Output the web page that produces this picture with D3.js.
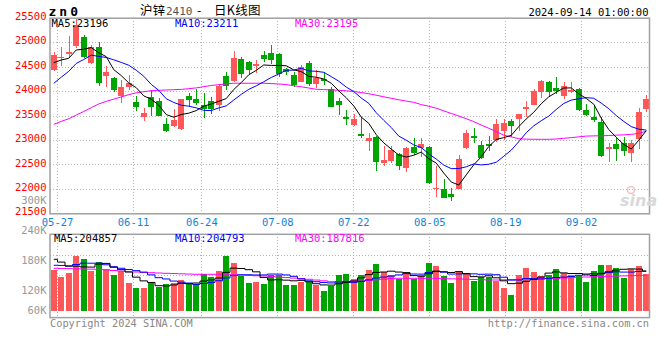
<!DOCTYPE html>
<html><head><meta charset="utf-8">
<script src="https://cdn.jsdelivr.net/npm/d3@7"></script>
<style>body{margin:0;background:#fff}svg{display:block}</style>
</head><body>
<svg id="c" width="660" height="360"></svg>
<script>
// ---------- DATA ----------
const dates = ["05-24","05-27","05-28","05-29","05-30","05-31","06-03","06-04","06-05","06-06","06-07",
"06-11","06-12","06-13","06-14","06-17","06-18","06-19","06-20","06-21","06-24","06-25","06-26","06-27","06-28",
"07-01","07-02","07-03","07-04","07-05","07-08","07-09","07-10","07-11","07-12","07-15","07-16","07-17","07-18","07-19",
"07-22","07-23","07-24","07-25","07-26","07-29","07-30","07-31","08-01","08-02","08-05","08-06","08-07","08-08","08-09",
"08-12","08-13","08-14","08-15","08-16","08-19","08-20","08-21","08-22","08-23","08-26","08-27","08-28","08-29","08-30",
"09-02","09-03","09-04","09-05","09-06","09-09","09-10","09-11","09-12","09-13"];
const tickDates = ["05-27","06-11","06-24","07-08","07-22","08-05","08-19","09-02"];
const open  = [24440,24690,24765,24930,25120,24575,24915,24325,24270,23910,24100,23790,23485,23880,23800,23335,23300,23230,23900,23840,
23720,23810,23720,24318,24222,24665,24598,24530,24747,24781,24767,24455,24338,24201,24590,24154,24250,24045,23805,23486,
23316,23126,22995,23077,22545,22586,22723,22443,22872,22840,22872,22013,22006,21904,22006,22840,23091,22907,22921,23009,
23200,23404,23439,23663,23725,23997,24201,24065,23915,23997,24052,23623,23486,23384,22819,22927,22954,22750,23030,23643];
const high  = [24815,24905,25130,25480,25150,24960,25020,24520,24290,24235,24340,23910,23660,24030,23870,23450,23650,23850,23965,24045,
23965,23895,24160,24394,24827,24712,24624,24645,24829,24950,24780,24476,24394,24543,24631,24431,24406,24099,23875,23623,
23541,23486,23146,23091,22887,22887,22750,22872,23044,23057,22887,22478,22205,22021,22702,23214,23248,22995,23091,23439,
23432,23439,23545,23805,24045,24236,24210,24291,24189,24189,24066,23745,23725,23486,22941,23044,23077,23000,23660,23920];
const low   = [24430,24520,24700,24900,24690,24560,24120,24100,23990,23760,24040,23600,23400,23500,23490,23180,23280,23210,23690,23725,
23455,23535,23600,24032,24200,24283,24358,24373,24610,24563,24304,24338,24099,24189,24113,24079,24134,23680,23520,23316,
23296,23044,22790,22381,22478,22532,22395,22361,22702,22655,22110,21850,21817,21768,22000,22819,22941,22614,22790,22975,
23009,23077,23200,23486,23720,23875,23882,23950,23841,23964,23608,23500,23384,22668,22566,22586,22682,22566,22830,23588];
const close = [24747,24710,24800,25360,24710,24915,24180,24405,24030,24100,24170,23690,23565,23690,23500,23200,23420,23840,23830,23765,
23650,23645,24110,24114,24692,24358,24440,24562,24666,24645,24358,24410,24134,24496,24154,24271,24236,23690,23725,23439,
23439,23091,23057,22566,22600,22805,22478,22852,22750,22927,22124,22034,21829,21837,22620,23159,23064,22647,22893,23336,
23350,23295,23541,23678,24017,24222,23997,24011,24113,24032,23623,23520,23418,22682,22872,22825,22790,22954,23588,23847];
const closePrior = [23450,23600,23750,23900,24030,24435,24625,24510,24633];
const ma30Price = [23330,23390,23445,23520,23592,23670,23747,23800,23845,23890,23936,23973,23997,24018,24025,24032,24038,24044,24058,24075,
24100,24125,24140,24155,24170,24170,24170,24170,24170,24163,24155,24142,24118,24097,24072,24047,24040,24034,24025,24015,
24000,23980,23955,23925,23893,23862,23832,23805,23780,23733,23700,23660,23605,23552,23500,23445,23385,23315,23250,23180,
23108,23072,23036,23027,23024,23023,23023,23030,23044,23058,23074,23089,23093,23096,23101,23108,23115,23125,23145,23190];
const volume = [160600,147000,155000,189000,182600,158600,176600,162000,150600,158600,135000,125000,125000,135000,126000,132600,135000,140600,132000,132600,
152000,147000,158600,189000,175000,148600,135000,137000,132600,150600,150600,130600,130600,137000,137000,130600,118600,128600,150600,152600,
142600,150600,160600,172600,156600,150600,142000,155200,142600,150600,175200,168600,148600,135200,158600,155200,139200,146000,146000,138600,
125200,110600,150600,165200,157200,148600,150600,162600,155200,150600,148600,137200,158600,170600,170600,165200,145200,162600,168600,152000];
const volPrior = [150000,165000,160000,155000,160000,175000,195000,190000,189400];
const ma30Vol = [164000,163700,163400,163000,162700,162300,162000,160800,159600,158400,157200,156600,155900,155200,154600,154000,153500,153000,152500,152000,
152000,152000,152000,152000,151200,150500,149800,149100,148600,147700,146600,145500,144400,143500,142000,140500,139000,137200,137500,137800,
138200,138600,139800,141000,142200,143400,144000,144000,144000,144000,144000,143700,143300,143000,142700,142200,141700,141200,140700,140600,
141000,141500,142000,142500,142800,143100,143400,143800,144500,145200,145900,146600,147200,147600,148000,148400,148800,149200,149600,150000];
const priceTicks = [21500,22000,22500,23000,23500,24000,24500,25000,25500];
const volTicks = [300000,240000,180000,120000,60000];
const volTickLabels = ["300K","240K","180K","120K","60K"];
const priceMaLabels = ["MA5:23196","MA10:23211","MA30:23195"];
const volMaLabels = ["MA5:204857","MA10:204793","MA30:187816"];
const titleParts = ["沪锌", "2410", "-", "日K线图"];

// ---------- LAYOUT ----------
const L = 50, R = 650, pTop = 18.2, pBot = 213.8, vTop = 234.3, vBot = 317.6, vBase = 310.7;
const RED = "#ff5757", GREEN = "#00a400", GRID = "#b4b4b4", FRAME = "#a0a0a0";
const MONO = "'DejaVu Sans Mono', monospace";
const svg = d3.select("#c");
const idx = d3.range(dates.length);
const x = d3.scaleBand().domain(idx).range([L, R]).padding(0);
const cx = i => x(i) + x.bandwidth() / 2;
const bw = x.bandwidth() * 0.8;
const xg = d3.scaleLinear().domain([0, dates.length - 1]).range([L, R]);
const y = d3.scaleLinear().domain([21500, 25500]).range([pBot, pTop]);
const yV = d3.scaleLinear().domain([0, 300000]).range([350.3, 200.3]);

function ma(vals, prior, n) {
  const all = prior.concat(vals);
  return vals.map((_, i) => d3.mean(all.slice(i + prior.length - n + 1, i + prior.length + 1)));
}
const ma5 = ma(close, closePrior, 5), ma10 = ma(close, closePrior, 10);
const vma5 = ma(volume, volPrior, 5), vma10 = ma(volume, volPrior, 10);
const up = i => close[i] >= open[i];

// ---------- GRID ----------
const g = svg.append("g").attr("shape-rendering", "crispEdges");
g.selectAll(".hg").data(priceTicks.slice(1, -1)).join("line")
  .attr("x1", L).attr("x2", R).attr("y1", d => y(d)).attr("y2", d => y(d))
  .attr("stroke", GRID).attr("stroke-dasharray", "1,2");
const vgrid = d3.range(1, 4).map(k => vTop + k * (vBot - vTop) / 4);
g.selectAll(".vhg").data(vgrid).join("line")
  .attr("x1", L).attr("x2", R).attr("y1", d => d).attr("y2", d => d)
  .attr("stroke", GRID).attr("stroke-dasharray", "1,2");
const tickIdx = tickDates.map(d => dates.indexOf(d));
[[pTop, pBot], [vTop, vBot]].forEach(([a, b]) => {
  g.append("g").selectAll("line").data(tickIdx).join("line")
    .attr("x1", d => xg(d)).attr("x2", d => xg(d)).attr("y1", a).attr("y2", b)
    .attr("stroke", GRID).attr("stroke-dasharray", "1,2");
});

// ---------- CANDLES ----------
const cg = svg.append("g").attr("shape-rendering", "crispEdges");
cg.selectAll(".wick").data(idx).join("line")
  .attr("x1", i => Math.round(cx(i)) + 0.5).attr("x2", i => Math.round(cx(i)) + 0.5)
  .attr("y1", i => y(high[i])).attr("y2", i => y(low[i]))
  .attr("stroke", i => up(i) ? RED : GREEN);
cg.selectAll(".body").data(idx).join("rect")
  .attr("x", i => cx(i) - bw / 2).attr("width", bw)
  .attr("y", i => y(Math.max(open[i], close[i])))
  .attr("height", i => Math.max(1.5, Math.abs(y(open[i]) - y(close[i]))))
  .attr("fill", i => up(i) ? RED : GREEN);

// ---------- PRICE MAs ----------
const line = d3.line().x((d, i) => cx(i)).y(d => y(d));
[[ma30Price, "#ff00ff"], [ma10, "#0000ff"], [ma5, "#000"]].forEach(([d, c]) =>
  svg.append("path").attr("d", line(d)).attr("fill", "none").attr("stroke", c).attr("stroke-width", 1));

// ---------- VOLUME ----------
cg.selectAll(".vol").data(idx).join("rect")
  .attr("x", i => cx(i) - bw / 2).attr("width", bw)
  .attr("y", i => yV(volume[i])).attr("height", i => vBase - yV(volume[i]))
  .attr("fill", i => up(i) ? RED : GREEN);
const vline = d3.line().x((d, i) => cx(i)).y(d => yV(d)).curve(d3.curveStep);
[[ma30Vol, "#ff00ff"], [vma10, "#0000ff"], [vma5, "#000"]].forEach(([d, c]) =>
  svg.append("path").attr("d", vline(d)).attr("fill", "none").attr("stroke", c).attr("stroke-width", 1));

// ---------- FRAMES ----------
[[pTop, pBot], [vTop, vBot]].forEach(([a, b]) =>
  svg.append("rect").attr("x", L).attr("y", a).attr("width", R - L - 0.5).attr("height", b - a)
    .attr("fill", "none").attr("stroke", FRAME).attr("stroke-width", 1.5));

// ---------- TEXT ----------
const txt = (s, xx, yy, o = {}) => svg.append("text").text(s).attr("x", xx).attr("y", yy)
  .attr("font-family", o.ff || MONO).attr("font-size", o.fs || 10).attr("fill", o.fill || "#000")
  .attr("text-anchor", o.anchor || "start").attr("font-weight", o.fw || "normal");
svg.selectAll(".pl").data(priceTicks).join("text").text(d => d)
  .attr("x", 46.5).attr("y", d => y(d) + 1.6).attr("text-anchor", "end")
  .attr("font-family", MONO).attr("font-size", 10.5).attr("fill", "#f00");
svg.selectAll(".vl").data(volTicks).join("text").text((d, i) => volTickLabels[i])
  .attr("x", 46.5).attr("y", d => Math.min(yV(d), vBase) + 3.6).attr("text-anchor", "end")
  .attr("font-family", MONO).attr("font-size", 10.5).attr("fill", "#999");
svg.selectAll(".dl").data(tickIdx).join("text").text(d => dates[d])
  .attr("x", d => xg(d)).attr("y", 225.5).attr("text-anchor", "middle")
  .attr("font-family", MONO).attr("font-size", 10.5).attr("fill", "#1283d6");
const maCol = ["#000", "#0000ff", "#ff00ff"], maX = [51.5, 175, 295], vmaX = [54, 175, 295];
priceMaLabels.forEach((s, i) => txt(s, maX[i], 27, { fill: maCol[i], fs: 10.5 }));
volMaLabels.forEach((s, i) => txt(s, vmaX[i], 242, { fill: maCol[i], fs: 10.5 }));
txt("zn0", 48.5, 15.5, { fw: "bold", fs: 13 }).attr("letter-spacing", 3);
const CJK = "'Noto Sans CJK SC', sans-serif";
txt(titleParts[0], 140, 14.5, { ff: CJK, fs: 12.5 });
txt(titleParts[1], 166, 14.5, { fill: "#555", fs: 11 });
txt(titleParts[2], 197, 14.5, { ff: CJK, fs: 12.5 });
txt(titleParts[3], 214, 14.5, { ff: CJK, fs: 12.5 }).attr("letter-spacing", 0.3);
txt("2024-09-14 01:00:00", 648.5, 16, { anchor: "end", fs: 10.5 });
txt("Copyright 2024 SINA.COM", 50, 327, { fill: "#888", fs: 10.3 });
txt("http://finance.sina.com.cn", 649, 327, { fill: "#888", fs: 10.3, anchor: "end" });
// sina watermark
svg.append("circle").attr("cx", 631).attr("cy", 190).attr("r", 3.5).attr("fill", "none")
  .attr("stroke", "#f2c4c4").attr("stroke-width", 1.5);
txt("sina", 620, 206, { ff: "'DejaVu Sans', sans-serif", fs: 16, fw: "bold", fill: "#d9d9d9" })
  .attr("font-style", "italic");
</script>
</body></html>
